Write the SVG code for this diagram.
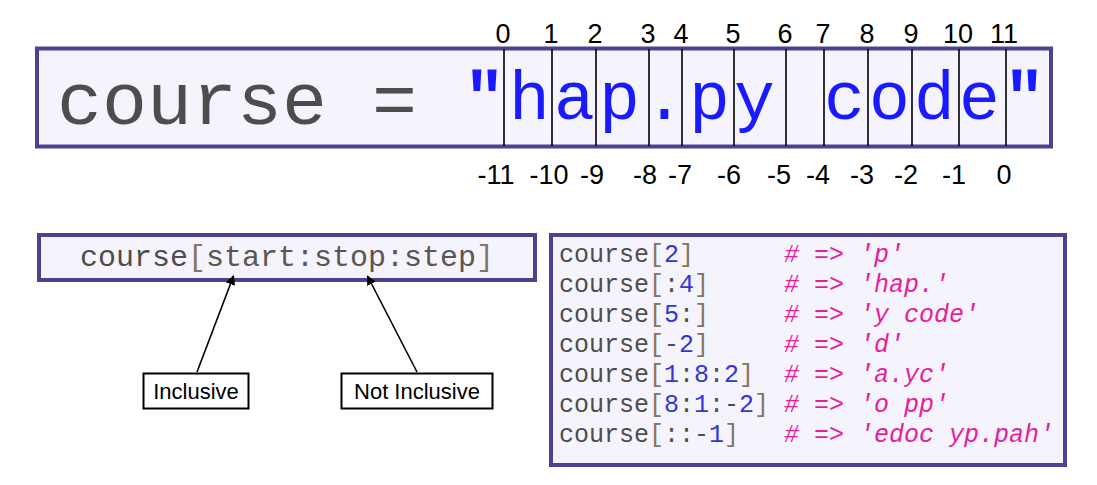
<svg xmlns="http://www.w3.org/2000/svg" width="1097" height="485" viewBox="0 0 1097 485">
<defs>
<style>
.box{fill:#f5f4fd;stroke:#4a4392;stroke-width:4}
.lbl{fill:#fff;stroke:#000;stroke-width:2}
.mono{font-family:"Liberation Mono","Courier New",monospace}
.sans{font-family:"Liberation Sans",Arial,sans-serif;fill:#000}
.idx{font-family:"Liberation Sans",Arial,sans-serif;font-size:27px;fill:#000;text-anchor:middle}
.grey{fill:#4d4d4d}
.br{fill:#857560}
.num{fill:#3434d8}
.cm{fill:#e61e9e;font-style:italic}
.blue{fill:#1a1aff}
.cell{stroke:#000;stroke-width:1.6}
.conn{stroke:#000;stroke-width:1.6;fill:none;marker-end:url(#ah)}
</style>
<marker id="ah" viewBox="0 0 10 10" refX="9" refY="5" markerWidth="6" markerHeight="6" orient="auto" markerUnits="strokeWidth">
<path d="M0,0 L10,5 L0,10 z" fill="#000"/>
</marker>
</defs>
<rect width="1097" height="485" fill="#fff"/>

<g id="string-box">
<rect class="box" x="37" y="48.5" width="1014" height="98"/>
<text class="mono grey" x="57" y="124" font-size="75">course =</text>
<text class="mono blue" x="464" y="119" font-size="68" font-weight="bold">"</text>
<text class="mono blue" x="509" y="119" font-size="68" letter-spacing="4.2">hap.py code</text>
<text class="mono blue" x="1004" y="119" font-size="68" font-weight="bold">"</text>
<g id="cell-lines">
<line class="cell" x1="504" y1="49" x2="504" y2="146"/>
<line class="cell" x1="552" y1="49" x2="552" y2="146"/>
<line class="cell" x1="596" y1="49" x2="596" y2="146"/>
<line class="cell" x1="649" y1="49" x2="649" y2="146"/>
<line class="cell" x1="682" y1="49" x2="682" y2="146"/>
<line class="cell" x1="734" y1="49" x2="734" y2="146"/>
<line class="cell" x1="786" y1="49" x2="786" y2="146"/>
<line class="cell" x1="824" y1="49" x2="824" y2="146"/>
<line class="cell" x1="868" y1="49" x2="868" y2="146"/>
<line class="cell" x1="912" y1="49" x2="912" y2="146"/>
<line class="cell" x1="959" y1="49" x2="959" y2="146"/>
<line class="cell" x1="1006" y1="49" x2="1006" y2="146"/>
</g>
</g>

<g id="positive-indices">
<text class="idx" x="503" y="43">0</text>
<text class="idx" x="551" y="43">1</text>
<text class="idx" x="595" y="43">2</text>
<text class="idx" x="648" y="43">3</text>
<text class="idx" x="681" y="43">4</text>
<text class="idx" x="733" y="43">5</text>
<text class="idx" x="785" y="43">6</text>
<text class="idx" x="823" y="43">7</text>
<text class="idx" x="867" y="43">8</text>
<text class="idx" x="911" y="43">9</text>
<text class="idx" x="958" y="43">10</text>
<text class="idx" x="1004" y="43">11</text>
</g>

<g id="negative-indices">
<text class="idx" x="496" y="184">-11</text>
<text class="idx" x="549" y="184">-10</text>
<text class="idx" x="592" y="184">-9</text>
<text class="idx" x="645" y="184">-8</text>
<text class="idx" x="680" y="184">-7</text>
<text class="idx" x="729" y="184">-6</text>
<text class="idx" x="779" y="184">-5</text>
<text class="idx" x="818" y="184">-4</text>
<text class="idx" x="862" y="184">-3</text>
<text class="idx" x="906" y="184">-2</text>
<text class="idx" x="954" y="184">-1</text>
<text class="idx" x="1004" y="184">0</text>
</g>

<g id="slice-syntax">
<rect class="box" x="39" y="235" width="496" height="45"/>
<text class="mono" x="80" y="266" font-size="30"><tspan class="grey">course</tspan><tspan class="br">[</tspan><tspan fill="#5a5652">start:stop:step</tspan><tspan class="br">]</tspan></text>
</g>

<g id="inclusive">
<rect class="lbl" x="143.5" y="373.5" width="105" height="35"/>
<text class="sans" x="196" y="399" font-size="22" text-anchor="middle">Inclusive</text>
</g>

<g id="not-inclusive">
<rect class="lbl" x="341.5" y="373.5" width="151" height="35"/>
<text class="sans" x="417" y="399" font-size="22" text-anchor="middle">Not Inclusive</text>
</g>

<g id="connectors">
<line class="conn" x1="197" y1="372" x2="233.5" y2="276"/>
<line class="conn" x1="417" y1="372" x2="367.5" y2="276"/>
</g>

<g id="examples">
<rect class="box" x="551" y="235" width="514" height="230"/>
<g class="mono" font-size="25">
<text x="559" y="262"><tspan class="grey">course</tspan><tspan class="br">[</tspan><tspan class="num">2</tspan><tspan class="br">]</tspan></text>
<text x="559" y="292"><tspan class="grey">course</tspan><tspan class="br">[</tspan><tspan class="grey">:</tspan><tspan class="num">4</tspan><tspan class="br">]</tspan></text>
<text x="559" y="322"><tspan class="grey">course</tspan><tspan class="br">[</tspan><tspan class="num">5</tspan><tspan class="grey">:</tspan><tspan class="br">]</tspan></text>
<text x="559" y="352"><tspan class="grey">course</tspan><tspan class="br">[</tspan><tspan class="grey">-</tspan><tspan class="num">2</tspan><tspan class="br">]</tspan></text>
<text x="559" y="382"><tspan class="grey">course</tspan><tspan class="br">[</tspan><tspan class="num">1</tspan><tspan class="grey">:</tspan><tspan class="num">8</tspan><tspan class="grey">:</tspan><tspan class="num">2</tspan><tspan class="br">]</tspan></text>
<text x="559" y="412"><tspan class="grey">course</tspan><tspan class="br">[</tspan><tspan class="num">8</tspan><tspan class="grey">:</tspan><tspan class="num">1</tspan><tspan class="grey">:-</tspan><tspan class="num">2</tspan><tspan class="br">]</tspan></text>
<text x="559" y="442"><tspan class="grey">course</tspan><tspan class="br">[</tspan><tspan class="grey">::-</tspan><tspan class="num">1</tspan><tspan class="br">]</tspan></text>
<text class="cm" x="784" y="262">#&#160;=&gt;&#160;'p'</text>
<text class="cm" x="784" y="292">#&#160;=&gt;&#160;'hap.'</text>
<text class="cm" x="784" y="322">#&#160;=&gt;&#160;'y&#160;code'</text>
<text class="cm" x="784" y="352">#&#160;=&gt;&#160;'d'</text>
<text class="cm" x="784" y="382">#&#160;=&gt;&#160;'a.yc'</text>
<text class="cm" x="784" y="412">#&#160;=&gt;&#160;'o&#160;pp'</text>
<text class="cm" x="784" y="442">#&#160;=&gt;&#160;'edoc&#160;yp.pah'</text>
</g>
</g>
</svg>
